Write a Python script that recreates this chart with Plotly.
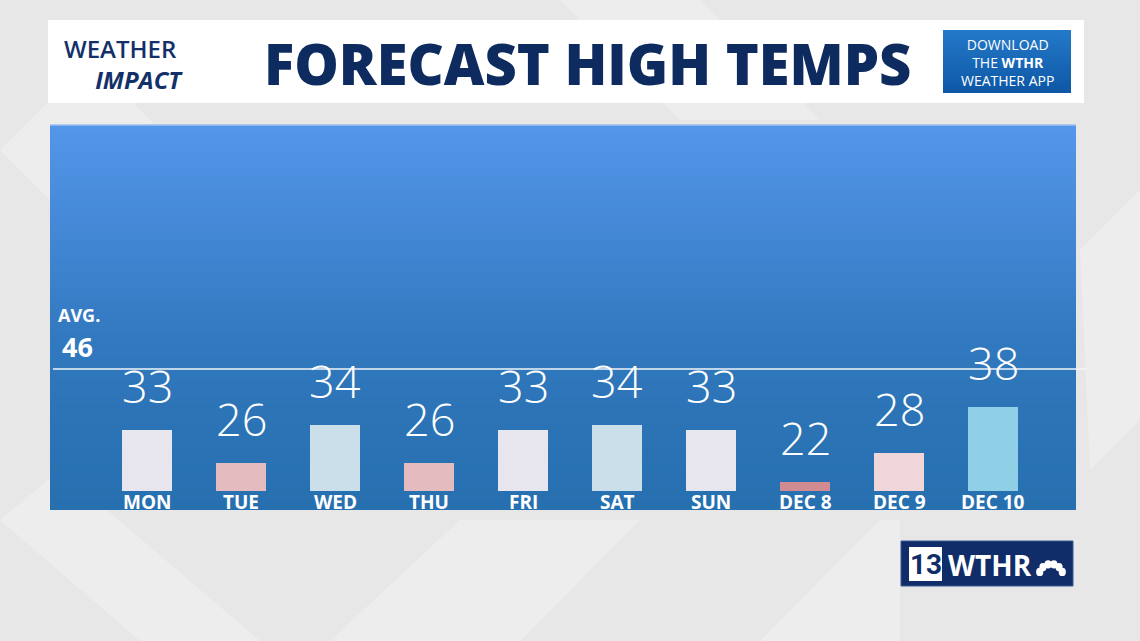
import math
import plotly.graph_objects as go

# ---------------- data ----------------
days = ["MON", "TUE", "WED", "THU", "FRI", "SAT", "SUN", "DEC 8", "DEC 9", "DEC 10"]
highs = [33, 26, 34, 26, 33, 34, 33, 22, 28, 38]
bar_colors = ["#E7E6EE", "#E4BCC0", "#CADFEA", "#E4BCC0", "#E7E6EE",
              "#CADFEA", "#E7E6EE", "#D08C90", "#F0D5D9", "#90D0E7"]
avg_high = 46
bar_base = 20

title_text = "FORECAST HIGH TEMPS"

# ---------------- geometry helpers ----------------
W, H = 1140, 641
PL, PR, PT, PB = 50, 1076, 125, 510   # plot area in pixels


def px(x):
    return (x - PL) / (PR - PL)


def py(y):
    return (PB - y) / (PB - PT)


def hexmix(c1, c2, t):
    a = [int(c1[i:i + 2], 16) for i in (1, 3, 5)]
    b = [int(c2[i:i + 2], 16) for i in (1, 3, 5)]
    return "#%02x%02x%02x" % tuple(round(a[k] + (b[k] - a[k]) * t) for k in range(3))


fig = go.Figure()

fig.add_trace(go.Bar(
    x=days,
    y=[v - bar_base for v in highs],
    base=bar_base,
    marker=dict(color=bar_colors, line=dict(width=0)),
    width=0.53,
    hoverinfo="skip",
))

shapes = []

# background diagonal light bands (decoration)
bg_polys = [
    [(0, 150), (90, 60), (260, 230), (170, 320)],
    [(0, 520), (60, 470), (260, 641), (140, 641)],
    [(560, 0), (700, 0), (820, 120), (680, 120)],
    [(330, 641), (460, 520), (640, 520), (520, 641)],
    [(1080, 250), (1140, 190), (1140, 420), (1090, 470)],
    [(760, 641), (880, 520), (900, 520), (900, 641)],
]
for poly in bg_polys:
    path = "M " + " L ".join(f"{px(a)},{py(b)}" for a, b in poly) + " Z"
    shapes.append(dict(type="path", xref="paper", yref="paper", path=path,
                       fillcolor="rgba(255,255,255,0.28)", line=dict(width=0), layer="below"))

# header white box
shapes.append(dict(type="rect", xref="paper", yref="paper",
                   x0=px(48), x1=px(1084), y0=py(103), y1=py(20),
                   fillcolor="#FFFFFF", line=dict(width=0), layer="below"))

# download app box (gradient, each strip runs to the bottom to avoid seams)
n = 24
for i in range(n):
    ytop = 30 + (93 - 30) * i / n
    shapes.append(dict(type="rect", xref="paper", yref="paper",
                       x0=px(943), x1=px(1071), y0=py(93), y1=py(ytop),
                       fillcolor=hexmix("#2379C8", "#0E58A6", i / (n - 1)),
                       line=dict(width=0), layer="below"))

# panel gradient (each strip runs to the bottom to avoid seams)
n = 80
stops = [(0.0, "#5496EA"), (0.55, "#3279C0"), (0.75, "#2C74B6"), (1.0, "#2770B0")]
for i in range(n):
    t = i / (n - 1)
    col = stops[-1][1]
    for k in range(len(stops) - 1):
        if stops[k][0] <= t <= stops[k + 1][0]:
            tt = (t - stops[k][0]) / (stops[k + 1][0] - stops[k][0])
            col = hexmix(stops[k][1], stops[k + 1][1], tt)
            break
    shapes.append(dict(type="rect", xref="paper", yref="paper",
                       x0=0, x1=1, y0=0, y1=1 - i / n,
                       fillcolor=col, line=dict(width=0), layer="below"))
shapes.append(dict(type="line", xref="paper", yref="paper", x0=0, x1=1, y0=1, y1=1,
                   line=dict(color="#9CC0EE", width=1.5), layer="below"))

# average line
shapes.append(dict(type="line", xref="paper", yref="y", x0=px(53), x1=px(1087),
                   y0=avg_high, y1=avg_high, line=dict(color="#F2F4F8", width=1.6),
                   layer="above"))

# WTHR logo
shapes.append(dict(type="rect", xref="paper", yref="paper",
                   x0=px(901), x1=px(1073), y0=py(586), y1=py(541),
                   fillcolor="#102C69", line=dict(color="#3A5A96", width=1)))
shapes.append(dict(type="rect", xref="paper", yref="paper",
                   x0=px(909), x1=px(942), y0=py(581), y1=py(547),
                   fillcolor="#FFFFFF", line=dict(width=0)))
cx, cy = 1051, 576
for k in range(6):
    ang = math.radians(20 + k * 28)
    ex = cx - 12 * math.cos(ang)
    ey = cy - 12 * math.sin(ang)
    shapes.append(dict(type="circle", xref="paper", yref="paper",
                       x0=px(ex - 3.6), x1=px(ex + 3.6), y0=py(ey + 4.2), y1=py(ey - 4.2),
                       fillcolor="#FFFFFF", line=dict(width=0)))

annotations = []

# value labels above bars
for d, v in zip(days, highs):
    annotations.append(dict(x=d, y=v, xref="x", yref="y", text=str(v),
                            showarrow=False, yanchor="bottom", yshift=12,
                            font=dict(family="Open Sans", size=45, color="#FFFFFF", weight=300)))
# day labels
for d in days:
    annotations.append(dict(x=d, y=bar_base, xref="x", yref="y", text=d,
                            showarrow=False, yanchor="top", yshift=4,
                            font=dict(family="Open Sans", size=19, color="#FFFFFF", weight=700)))

# AVG labels
annotations.append(dict(x=px(56), y=py(315), xref="paper", yref="paper", text="AVG.",
                        showarrow=False, xanchor="left", yanchor="middle",
                        font=dict(family="Open Sans", size=18, color="#FFFFFF", weight=700)))
annotations.append(dict(x=px(60), y=py(346), xref="paper", yref="paper", text=str(avg_high),
                        showarrow=False, xanchor="left", yanchor="middle",
                        font=dict(family="Open Sans", size=27, color="#FFFFFF", weight=700)))

# header title
annotations.append(dict(x=px(587), y=py(63), xref="paper", yref="paper", text=title_text,
                        showarrow=False, xanchor="center", yanchor="middle",
                        font=dict(family="Open Sans", size=56, color="#0E2B5F", weight=800)))
# logo text (one two-line text, uniform size)
annotations.append(dict(x=px(62), y=py(64), xref="paper", yref="paper",
                        text=("WEATHER<br>&nbsp;&nbsp;&nbsp;&nbsp;&nbsp;"
                              "<b><i>IMPACT</i></b>"),
                        showarrow=False, xanchor="left", yanchor="middle", align="left",
                        font=dict(family="Open Sans", size=24, color="#13306B", weight=600)))
# download box text
annotations.append(dict(x=px(1007), y=py(62), xref="paper", yref="paper",
                        text="DOWNLOAD<br>THE <b>WTHR</b><br>WEATHER APP",
                        showarrow=False, xanchor="center", yanchor="middle", align="center",
                        font=dict(family="Open Sans", size=14, color="#FFFFFF")))
# WTHR logo text
annotations.append(dict(x=px(925.5), y=py(564), xref="paper", yref="paper", text="<b>13</b>",
                        showarrow=False, xanchor="center", yanchor="middle",
                        font=dict(family="Roboto", size=28, color="#102C69")))
annotations.append(dict(x=px(946), y=py(565), xref="paper", yref="paper", text="<b>WTHR</b>",
                        showarrow=False, xanchor="left", yanchor="middle",
                        font=dict(family="Open Sans", size=28, color="#FFFFFF", weight=800)))

fig.update_layout(
    width=W, height=H,
    margin=dict(l=PL, r=W - PR, t=PT, b=H - PB, pad=0),
    paper_bgcolor="#E7E7E8",
    plot_bgcolor="rgba(0,0,0,0)",
    showlegend=False,
    shapes=shapes,
    annotations=annotations,
    bargap=0,
    xaxis=dict(range=[-1.032, 9.883], showticklabels=False, showgrid=False,
               zeroline=False, showline=False, ticks="", fixedrange=True),
    yaxis=dict(range=[15.95, 98.0], showticklabels=False, showgrid=False,
               zeroline=False, showline=False, ticks="", fixedrange=True),
)

fig.write_html("out.html", config={"displayModeBar": False},
               post_script="document.body.style.margin='0';")
